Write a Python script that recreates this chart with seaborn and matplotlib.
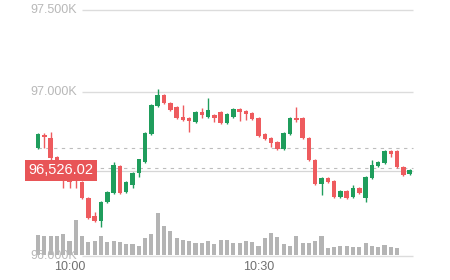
import numpy as np
import pandas as pd
import matplotlib
matplotlib.use("Agg")
import matplotlib.pyplot as plt
import seaborn as sns

# ---- data -----------------------------------------------------------------
opens = [96659, 96738, 96720, 96604, 96555, 96470, 96476, 96451, 96354, 96244,
         96213, 96329, 96384, 96549, 96390, 96433, 96506, 96573, 96744, 96915,
         96982, 96933, 96909, 96848, 96841, 96817, 96878, 96848, 96860, 96878,
         96811, 96848, 96896, 96884, 96872, 96841, 96744, 96720, 96695, 96652,
         96744, 96841, 96841, 96720, 96585, 96439, 96476, 96457, 96360, 96396,
         96360, 96415, 96354, 96476, 96549, 96567, 96640, 96640, 96543, 96500]
highs = [96750, 96750, 96756, 96610, 96561, 96476, 96482, 96457, 96360, 96268,
         96335, 96396, 96573, 96555, 96457, 96512, 96591, 96756, 96927, 97018,
         96988, 96939, 96915, 96921, 96848, 96884, 96902, 96963, 96866, 96884,
         96872, 96902, 96902, 96890, 96878, 96848, 96750, 96726, 96701, 96756,
         96848, 96909, 96848, 96726, 96591, 96482, 96482, 96463, 96402, 96402,
         96433, 96421, 96488, 96585, 96579, 96646, 96646, 96646, 96549, 96530]
lows = [96652, 96659, 96585, 96549, 96415, 96415, 96415, 96348, 96226, 96207,
        96177, 96323, 96378, 96378, 96384, 96415, 96482, 96567, 96738, 96909,
        96927, 96884, 96835, 96823, 96756, 96811, 96841, 96841, 96817, 96805,
        96805, 96841, 96823, 96829, 96829, 96726, 96707, 96665, 96646, 96646,
        96738, 96817, 96713, 96579, 96433, 96372, 96445, 96354, 96354, 96348,
        96354, 96378, 96329, 96470, 96543, 96561, 96604, 96537, 96488, 96494]
closes = [96744, 96726, 96598, 96555, 96463, 96451, 96457, 96354, 96232, 96213,
          96329, 96390, 96555, 96384, 96451, 96506, 96591, 96750, 96921, 96982,
          96933, 96890, 96841, 96829, 96823, 96878, 96860, 96890, 96841, 96811,
          96866, 96896, 96878, 96866, 96835, 96732, 96713, 96689, 96652, 96750,
          96841, 96829, 96720, 96585, 96439, 96476, 96451, 96360, 96396, 96354,
          96415, 96384, 96482, 96555, 96573, 96640, 96622, 96543, 96494, 96526.02]
volumes = [60, 57, 57, 57, 62, 43, 105, 57, 40, 43, 57, 40, 43, 40, 32, 32,
           27, 50, 62, 125, 87, 73, 52, 45, 43, 37, 37, 43, 33, 45, 45, 37,
           37, 43, 40, 27, 50, 65, 55, 32, 27, 57, 35, 37, 43, 57, 22, 25,
           27, 27, 25, 25, 37, 27, 25, 30, 25, 22]
price_ticks = [97500, 97000, 96000]
price_tick_labels = ["97.500K", "97.000K", "96.000K"]
time_tick_idx = [5, 35]
time_tick_labels = ["10:00", "10:30"]
ref_price = 96659
last_price = 96526.02
last_label = "96,526.02"

# ---- styling --------------------------------------------------------------
sns.set_theme(style="white")
plt.rcParams["font.family"] = ["Liberation Sans", "DejaVu Sans"]

GREEN = "#1f9d5c"
RED = "#ee5b5e"
GRID = "#dcdcdc"
VOL = "#b4b4b4"

fig = plt.figure(figsize=(4.5, 2.8), dpi=100)
ax = fig.add_axes([0, 0, 1, 1])
ax2 = ax.twinx()
ax2.set_position([0, 0, 1, 1])

n = len(closes)
idx = np.arange(n)
df = pd.DataFrame({"i": idx, "open": opens, "high": highs, "low": lows, "close": closes})
df["up"] = df["close"] >= df["open"]

# x mapping: candle i at pixel 38 + 6.3*i
step = 6.3
x0 = 38
ax.set_xlim(-x0 / step, (450 - x0) / step)
ax2.set_xlim(-x0 / step, (450 - x0) / step)
# y mapping: p at pixel 92 + (97000-p)*0.164
k = 0.164
ax.set_ylim(97000 - (280 - 92) / k, 97000 + 92 / k)
# volume: baseline at pixel 255, 1 unit = 1/3 px
ax2.set_ylim(-(280 - 255) * 3, 255 * 3)

# grid lines
gx0 = (82 - x0) / step
gx1 = (413 - x0) / step
ax.hlines(price_ticks, gx0, gx1, color=GRID, lw=1, zorder=0)
for p, lab in zip(price_ticks, price_tick_labels):
    ax.text((30 - x0) / step, p, lab, ha="left", va="center", fontsize=9,
            color="#b8b8b8", zorder=1)

# reference dashed lines
ax.hlines([ref_price, last_price + 12], 0, gx1, color="#bdbdbd", lw=0.8,
          linestyles=(0, (3, 4)), zorder=1)
ax.hlines([last_price - 8], 0, gx1, color="#d6d6d6", lw=0.9, zorder=1)

# volume bars via seaborn
vdf = pd.DataFrame({"i": np.arange(len(volumes)), "v": volumes})
sns.barplot(data=vdf, x="i", y="v", native_scale=True, color=VOL,
            width=0.66, ax=ax2, saturation=1, edgecolor="none", zorder=2)

# candles
colors = np.where(df["up"], GREEN, RED)
ax.vlines(df["i"], df["low"], df["high"], colors=colors, lw=1, zorder=3)
body_bottom = np.minimum(df["open"], df["close"])
body_h = np.maximum(np.abs(df["close"] - df["open"]), 8)
ax.bar(df["i"], body_h, bottom=body_bottom, width=0.7, color=colors,
       edgecolor="none", zorder=4)

# last price label
ax.text((61 - x0) / step, last_price - 4, last_label, ha="center", va="center",
        fontsize=10.5, color="white", zorder=6,
        bbox=dict(boxstyle="square,pad=0.25", fc="#e85557", ec="none"))

# time labels
for i, lab in zip(time_tick_idx, time_tick_labels):
    ax.text(i, 97000 - (267 - 92) / k, lab, ha="center", va="center",
            fontsize=9, color="#707070", zorder=5)

for a in (ax, ax2):
    a.set_axis_off()
ax.set_zorder(ax2.get_zorder() + 1)
ax.patch.set_visible(False)

fig.savefig("out.png", dpi=100, facecolor="white")
